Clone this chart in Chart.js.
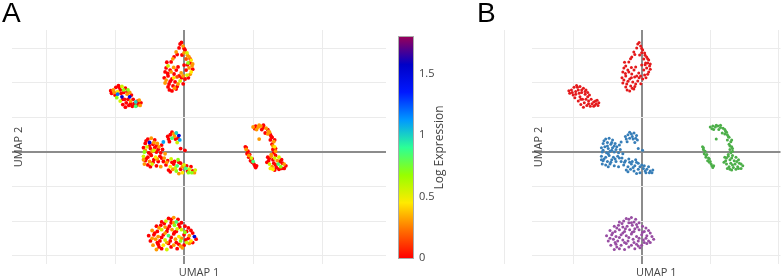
<!DOCTYPE html>
<html>
<head>
<meta charset="utf-8">
<script src="https://cdn.jsdelivr.net/npm/chart.js@4.4.1/dist/chart.umd.min.js"></script>
<style>
  html, body { margin: 0; padding: 0; background: #fff; }
  #wrap { position: relative; width: 782px; height: 279px; overflow: hidden; }
  canvas { position: absolute; top: 0; }
  #umapA { left: 0; }
  #umapB { left: 470px; }
  .panel { position: absolute; top: -1px; font: 28px "Liberation Sans", Arial, sans-serif; line-height: 28px; color: #000; }
</style>
</head>
<body>
<div id="wrap">
  <canvas id="umapA" width="470" height="279"></canvas>
  <canvas id="umapB" width="312" height="279"></canvas>
  <div class="panel" style="left:2px">A</div>
  <div class="panel" style="left:477px">B</div>
</div>
<script>
// axes
const xTicks = [-8, -4, 0, 4, 8];
const yTicks = [-6, -4, -2, 0, 2, 4, 6];
const yRange = [-6.49, 7.07];
const xRangeA = [-9.97, 11.7];
const xRangeB = [-6.4, 8.1];
const xTitle = "UMAP 1";
const yTitle = "UMAP 2";

// colour bar (panel A)
const cbTitle = "Log Expression";
const cbTicks = [0, 0.5, 1, 1.5];
const cbMax = 1.8;
const cbStops = [
  [0, [255, 0, 0]], [0.125, [255, 111, 0]], [0.25, [255, 234, 0]],
  [0.375, [151, 255, 0]], [0.5, [44, 255, 150]], [0.625, [0, 152, 255]],
  [0.75, [0, 25, 255]], [0.875, [0, 0, 200]], [1, [150, 0, 90]]
];

// cells: [UMAP 1, UMAP 2, log expression]
const clusterTop = [
  [-0.23, 6.26, 0], [-0.06, 6.14, 0.3], [-0.29, 6.03, 0], [0.06, 5.91, 0], [-0.46, 5.8, 0.3],
  [0.17, 5.74, 0.55], [-0.12, 5.62, 0], [0.29, 5.51, 0.3], [-0.58, 5.51, 0], [0.12, 5.39, 0.15],
  [0.41, 5.33, 0.45], [-0.75, 5.22, 0], [0.23, 5.16, 0.7], [0, 5.04, 0], [0.46, 4.99, 0.3],
  [-0.93, 4.99, 0.55], [-0.35, 4.93, 0], [0.29, 4.87, 0.3], [0.12, 4.75, 0], [-0.81, 4.75, 0],
  [0.41, 4.64, 0.45], [-0.17, 4.58, 0.3], [-1.1, 4.64, 0], [-0.58, 4.52, 0], [0.17, 4.46, 0.55],
  [-0.06, 4.41, 0.3], [-0.93, 4.41, 0], [-0.41, 4.35, 0.15], [-0.7, 4.23, 0], [0.06, 4.23, 0],
  [-1.04, 4.17, 0.3], [-0.23, 4.12, 0.55], [-0.52, 4.06, 0], [-0.87, 3.94, 0], [-0.35, 3.94, 0.3],
  [-0.64, 3.83, 0], [-0.93, 3.77, 0], [-0.46, 3.65, 0], [-0.7, 3.54, 0], [-0.29, 4.41, 0],
  [-0.75, 4.64, 0.3], [0.35, 5.16, 0], [-1.04, 4.87, 0],
  [-0.15, 6.35, 0], [0.0, 6.0, 0], [0.2, 5.6, 0.3], [0.35, 5.4, 0], [0.5, 5.1, 0.3],
  [0.5, 4.8, 0], [0.35, 4.5, 0.3], [0.25, 4.3, 0], [-0.45, 4.75, 0], [-0.6, 4.9, 0.3],
  [-0.95, 4.55, 0], [-1.15, 4.3, 0], [-1.1, 4.0, 0.3], [-0.8, 4.1, 0], [-0.6, 4.3, 0.45],
  [-0.15, 4.3, 0], [-0.05, 3.95, 0], [-0.55, 3.7, 0.3], [-0.85, 3.6, 0], [-0.4, 3.8, 0],
  [-1.0, 5.2, 0], [-0.65, 5.4, 0.3], [-0.4, 5.65, 0], [0.0, 5.75, 0.3], [0.2, 5.05, 0]
];
const clusterLeft = [
  [-4.2, 3.4, 0], [-4.1, 3.6, 0.3], [-3.95, 3.75, 0], [-3.8, 3.85, 0], [-3.6, 3.8, 0.55],
  [-3.4, 3.7, 0], [-3.25, 3.6, 0.7], [-4.0, 3.3, 0], [-3.85, 3.5, 0.45], [-3.7, 3.6, 0],
  [-3.5, 3.45, 0], [-3.3, 3.35, 0.3], [-3.15, 3.2, 1.5], [-3.9, 3.15, 0.7], [-3.6, 3.2, 1.6],
  [-3.45, 3.05, 0], [-3.7, 2.95, 0.55], [-3.35, 2.85, 0], [-3.1, 2.95, 0.3], [-2.95, 3.05, 0],
  [-2.8, 2.9, 1.0], [-2.65, 2.8, 0], [-2.5, 2.85, 0], [-2.6, 3.0, 0.3], [-3.2, 2.7, 0],
  [-3.0, 2.65, 0], [-3.4, 2.6, 0], [-2.8, 2.65, 0.85], [-3.55, 2.75, 0], [-3.05, 3.3, 0],
  [-4.25, 3.55, 0], [-4.05, 3.45, 0.3], [-3.75, 3.75, 0], [-3.5, 3.6, 0.7], [-3.3, 3.5, 0],
  [-3.55, 3.05, 0], [-3.25, 3.05, 0], [-2.9, 2.8, 0], [-2.7, 2.95, 0], [-2.55, 2.7, 0.3],
  [-3.1, 2.8, 0], [-3.85, 3.35, 1.2], [-3.65, 3.4, 0], [-3.15, 3.45, 0.3], [-2.75, 2.7, 0]
];
const clusterMid = [
  [-2.1, 0.75, 0], [-1.9, 0.8, 0.3], [-1.7, 0.7, 0], [-2.25, 0.5, 0], [-2.0, 0.55, 1.5],
  [-1.8, 0.45, 0], [-1.55, 0.5, 0.3], [-2.35, 0.25, 0], [-2.15, 0.3, 0.55], [-1.95, 0.2, 0],
  [-1.7, 0.25, 0], [-1.45, 0.3, 0.3], [-1.25, 0.15, 0], [-2.3, 0.0, 0.7], [-2.05, -0.05, 0],
  [-1.85, 0.05, 0.3], [-1.6, 0.0, 0], [-1.35, -0.05, 0], [-1.1, -0.1, 0.3], [-2.35, -0.25, 0.55],
  [-2.1, -0.3, 0], [-1.9, -0.2, 0], [-1.65, -0.3, 0.45], [-1.4, -0.25, 0], [-2.25, -0.5, 0],
  [-2.0, -0.55, 0.3], [-1.75, -0.45, 0], [-1.5, -0.55, 0], [-2.1, -0.75, 0], [-1.85, -0.7, 0.55],
  [-1.6, -0.8, 0], [-2.3, -0.7, 0.3],
  [-2.2, 0.65, 0], [-2.0, 0.35, 0], [-1.75, 0.55, 0.3], [-1.6, 0.35, 0], [-2.25, 0.1, 0.3],
  [-1.95, -0.1, 0], [-1.75, 0.1, 0.55], [-1.5, 0.15, 0], [-2.2, -0.4, 0], [-1.8, -0.6, 0],
  [-1.55, -0.4, 0.3], [-1.3, -0.35, 0], [-1.95, -0.85, 0], [-2.35, -0.45, 0.3], [-1.3, 0.4, 0],
  [-0.95, 0.9, 0], [-0.8, 1.0, 0], [-0.6, 1.05, 0.3], [-0.45, 1.1, 1.0], [-0.3, 0.95, 1.5],
  [-0.7, 0.8, 0.85], [-0.5, 0.75, 0], [-0.25, 0.7, 1.1], [-0.85, 0.6, 0], [-0.4, 0.55, 0.55],
  [-0.2, 0.2, 0], [0.05, 0.1, 0], [-1.2, 0.58, 1.1],
  [-0.7, 1.15, 0], [-0.55, 0.9, 0.3], [-0.9, 0.75, 0], [-0.35, 0.8, 0],
  [-1.15, -0.35, 0.3], [-0.95, -0.5, 0], [-0.75, -0.4, 0.55], [-0.55, -0.55, 0], [-0.35, -0.45, 0.7],
  [-1.05, -0.75, 0], [-0.8, -0.85, 0.45], [-0.6, -0.7, 0], [-0.4, -0.8, 0.85], [-0.2, -0.65, 0],
  [0.0, -0.75, 0.55], [-0.9, -1.05, 0], [-0.65, -1.0, 0.3], [-0.45, -1.1, 0.7], [-0.2, -1.0, 0],
  [0.1, -0.95, 0.85], [0.3, -1.0, 0.55], [0.5, -1.1, 0], [0.6, -1.2, 0.3], [0.25, -1.2, 0.7],
  [-0.1, -1.2, 0.45], [0.4, -0.85, 0], [-1.2, -0.55, 0], [-1.35, -0.85, 0.3],
  [-1.0, -0.6, 0.3], [-0.7, -0.6, 0], [-0.5, -0.9, 0.55], [-0.3, -0.6, 0], [-0.1, -0.85, 0.3],
  [0.2, -1.1, 0], [0.45, -1.2, 0.7], [-0.8, -1.15, 0], [-0.3, -1.25, 0.3], [0.65, -1.05, 0.55],
  [0.15, -0.8, 0]
];
const clusterRight = [
  [4.0, 1.45, 0.3], [4.15, 1.5, 0], [4.3, 1.45, 0.3], [4.45, 1.5, 0.3], [4.6, 1.42, 0],
  [4.75, 1.38, 0.3], [4.85, 1.3, 0], [4.2, 1.3, 0.3], [4.5, 1.3, 0], [4.95, 1.15, 0.3],
  [5.0, 1.0, 0], [4.85, 1.05, 0.3], [5.1, 0.85, 0], [5.0, 0.7, 0], [5.2, 0.6, 0.3],
  [5.1, 0.45, 0], [5.25, 0.3, 0.45], [5.15, 0.15, 0], [5.3, 0.05, 0.3], [5.2, -0.05, 0],
  [4.7, 1.1, 0],
  [4.85, -0.3, 0], [5.05, -0.25, 0.3], [5.3, -0.2, 0], [5.5, -0.3, 0.55], [4.9, -0.5, 0],
  [5.15, -0.45, 0], [5.4, -0.5, 0.3], [5.65, -0.45, 0], [4.95, -0.7, 0.55], [5.2, -0.65, 0],
  [5.45, -0.7, 0.85], [5.7, -0.65, 0], [5.9, -0.8, 0], [5.1, -0.85, 0.3], [5.35, -0.9, 0],
  [5.6, -0.85, 0.7], [5.8, -0.95, 0], [5.0, -0.95, 0.45], [5.5, -1.0, 0], [5.25, -1.05, 0],
  [3.55, 0.3, 0], [3.6, 0.15, 0.3], [3.7, 0.05, 0], [3.65, -0.1, 0], [3.8, -0.15, 0],
  [3.75, -0.3, 0], [3.9, -0.35, 0.55], [3.85, -0.5, 0], [4.0, -0.55, 0.85], [4.05, -0.7, 0],
  [4.2, -0.8, 0], [4.15, -0.9, 0], [3.95, -0.4, 0], [4.35, 0.75, 0.3],
  [4.1, 1.35, 0], [4.35, 1.55, 0.3], [4.6, 1.55, 0], [4.9, 1.2, 0.3], [5.05, 0.9, 0],
  [5.25, 0.7, 0], [5.15, 0.35, 0.3], [5.3, 0.2, 0], [5.05, -0.15, 0.3], [4.95, -0.35, 0],
  [5.25, -0.35, 0.55], [5.55, -0.55, 0], [5.8, -0.7, 0.3], [5.3, -0.75, 0], [5.15, -1.0, 0.45],
  [5.65, -0.95, 0], [4.8, -0.6, 0], [3.6, 0.25, 0], [3.75, -0.2, 0.3], [3.95, -0.6, 0],
  [4.1, -0.8, 0]
];
const clusterBottom = [
  [-0.9, -3.85, 0], [-0.6, -3.8, 0.3], [-0.35, -3.9, 0],
  [-1.3, -4.05, 0], [-1.05, -4.0, 0.55], [-0.75, -4.1, 0], [-0.45, -4.05, 0.85], [-0.15, -4.1, 0],
  [-1.6, -4.3, 0], [-1.35, -4.25, 0], [-1.1, -4.35, 0.3], [-0.85, -4.3, 0], [-0.55, -4.25, 0.7],
  [-0.25, -4.35, 0], [0.05, -4.3, 0],
  [-1.85, -4.55, 0.3], [-1.55, -4.6, 0], [-1.3, -4.5, 0.55], [-1.0, -4.6, 0], [-0.7, -4.5, 0.3],
  [-0.45, -4.6, 0], [-0.15, -4.5, 0.55], [0.15, -4.6, 0], [0.4, -4.55, 0],
  [-2.05, -4.85, 0], [-1.75, -4.8, 0], [-1.5, -4.9, 0.3], [-1.2, -4.8, 0], [-0.9, -4.85, 0.85],
  [-0.6, -4.75, 0], [-0.3, -4.9, 0.45], [0.0, -4.8, 0], [0.3, -4.85, 0.3], [0.6, -4.9, 1.5],
  [-1.95, -5.15, 0], [-1.65, -5.05, 0.3], [-1.4, -5.15, 0], [-1.1, -5.1, 0.55], [-0.8, -5.15, 0],
  [-0.5, -5.05, 0.3], [-0.2, -5.15, 0.7], [0.1, -5.1, 0], [0.4, -5.15, 0.45], [0.7, -5.05, 0],
  [-1.8, -5.4, 0.3], [-1.5, -5.35, 0], [-1.2, -5.4, 0.45], [-0.9, -5.3, 0], [-0.6, -5.4, 0.3],
  [-0.3, -5.35, 0], [0.0, -5.4, 0], [0.3, -5.3, 0.3],
  [-1.6, -5.65, 0.3], [-1.3, -5.6, 0], [-1.0, -5.65, 0.55], [-0.4, -5.6, 0], [-0.1, -5.55, 0.3],
  [-0.75, -3.9, 0], [-1.15, -4.15, 0], [-0.6, -4.1, 0.3], [-0.3, -4.2, 0], [-1.45, -4.4, 0.3],
  [-0.95, -4.45, 0], [-0.4, -4.45, 0.55], [0.25, -4.4, 0], [-1.7, -4.7, 0], [-1.1, -4.7, 0.3],
  [-0.55, -4.65, 0], [0.05, -4.65, 0.7], [0.5, -4.7, 0], [-1.85, -5.0, 0.3], [-1.3, -4.95, 0],
  [-0.75, -4.95, 0], [-0.15, -5.0, 0.3], [0.25, -5.0, 0], [-1.55, -5.25, 0], [-1.0, -5.25, 0.3],
  [-0.45, -5.25, 0], [0.15, -5.25, 0.55], [-1.45, -5.5, 0], [-0.75, -5.5, 0], [-0.2, -5.45, 0.3],
  [0.5, -5.25, 0]
];

// panel B groups
const clusters = [
  { name: "1", color: "#e41a1c", points: clusterTop.concat(clusterLeft) },
  { name: "2", color: "#377eb8", points: clusterMid },
  { name: "3", color: "#4daf4a", points: clusterRight },
  { name: "4", color: "#984ea3", points: clusterBottom }
];

function exprColor(v) {
  const t = Math.min(Math.max(v / cbMax, 0), 1);
  for (let i = 1; i < cbStops.length; i++) {
    const [t1, c1] = cbStops[i];
    const [t0, c0] = cbStops[i - 1];
    if (t <= t1) {
      const f = (t - t0) / (t1 - t0);
      const c = c0.map((a, k) => Math.round(a + (c1[k] - a) * f));
      return `rgb(${c[0]},${c[1]},${c[2]})`;
    }
  }
  return "rgb(150,0,90)";
}

const gridColor = c => (c.tick && c.tick.value === 0 ? "#8c8c8c" : "#ebebeb");
const gridWidth = c => (c.tick && c.tick.value === 0 ? 2 : 1);

function axis(range, ticks) {
  return {
    type: "linear",
    min: range[0],
    max: range[1],
    border: { display: false },
    grid: { color: gridColor, lineWidth: gridWidth, drawTicks: false },
    ticks: { display: false },
    afterBuildTicks: a => { a.ticks = ticks.map(v => ({ value: v })); }
  };
}

function baseOptions(xRange, padLeft, padRight) {
  return {
    responsive: false,
    animation: false,
    layout: { padding: { left: padLeft, right: padRight, top: 30, bottom: 15 } },
    plugins: { legend: { display: false }, tooltip: { enabled: false } },
    scales: { x: axis(xRange, xTicks), y: axis(yRange, yTicks) }
  };
}

// axis titles sit just inside the plot edge, like the original
const umapTitles = {
  id: "umapTitles",
  afterDraw(chart) {
    const { ctx, chartArea: a } = chart;
    ctx.save();
    ctx.font = '11px "Open Sans"';
    ctx.fillStyle = "#444";
    ctx.textAlign = "center";
    ctx.textBaseline = "middle";
    ctx.fillText(xTitle, (a.left + a.right) / 2, a.bottom + 9);
    ctx.translate(a.left + 7, (a.top + a.bottom) / 2);
    ctx.rotate(-Math.PI / 2);
    ctx.fillText(yTitle, 0, 0);
    ctx.restore();
  }
};

const colorBar = {
  id: "colorBar",
  afterDraw(chart) {
    const { ctx, chartArea: a } = chart;
    const left = a.right + 13, right = left + 14;
    const top = a.top + 7, bottom = a.bottom - 6;
    ctx.save();
    const g = ctx.createLinearGradient(0, bottom, 0, top);
    cbStops.forEach(([t, c]) => g.addColorStop(t, `rgb(${c[0]},${c[1]},${c[2]})`));
    ctx.fillStyle = g;
    ctx.fillRect(left, top, right - left, bottom - top);
    ctx.strokeStyle = "#aaa";
    ctx.lineWidth = 1;
    ctx.strokeRect(left - 0.5, top - 0.5, right - left + 1, bottom - top + 1);

    ctx.font = '11px "Open Sans"';
    ctx.fillStyle = "#444";
    ctx.textAlign = "left";
    ctx.textBaseline = "middle";
    cbTicks.forEach(v => {
      const y = bottom - (v / cbMax) * (bottom - top);
      ctx.fillText(String(v), right + 6, y);
    });

    ctx.font = '12px "Open Sans"';
    ctx.textAlign = "center";
    ctx.translate(right + 27, (top + bottom) / 2);
    ctx.rotate(-Math.PI / 2);
    ctx.fillText(cbTitle, 0, 0);
    ctx.restore();
  }
};

// panel A: expression, highest values drawn last
const cells = clusters.flatMap(c => c.points).slice().sort((p, q) => p[2] - q[2]);

new Chart(document.getElementById("umapA"), {
  type: "scatter",
  data: {
    datasets: [{
      data: cells.map(p => ({ x: p[0], y: p[1] })),
      pointRadius: 1.9,
      pointHoverRadius: 1.9,
      pointBorderWidth: 0,
      pointBackgroundColor: cells.map(p => exprColor(p[2]))
    }]
  },
  options: baseOptions(xRangeA, 12, 84),
  plugins: [umapTitles, colorBar]
});

// panel B: clusters
new Chart(document.getElementById("umapB"), {
  type: "scatter",
  data: {
    datasets: clusters.map(c => ({
      label: c.name,
      data: c.points.map(p => ({ x: p[0], y: p[1] })),
      pointRadius: 1.5,
      pointHoverRadius: 1.5,
      pointBorderWidth: 0,
      pointBackgroundColor: c.color
    }))
  },
  options: baseOptions(xRangeB, 62, 0),
  plugins: [umapTitles]
});
</script>
</body>
</html>
